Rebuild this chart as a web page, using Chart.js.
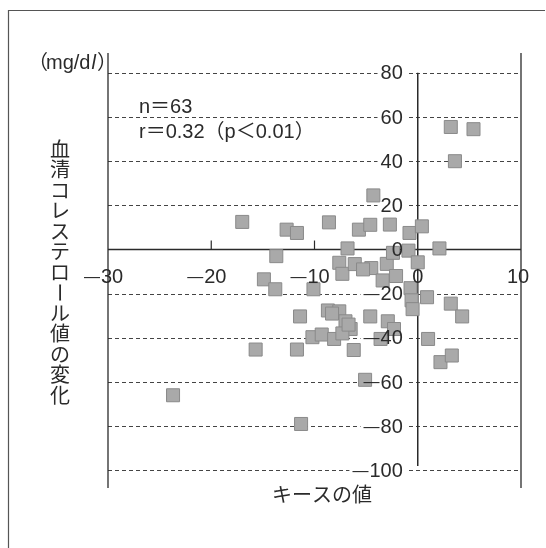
<!DOCTYPE html>
<html>
<head>
<meta charset="utf-8">
<script src="https://cdn.jsdelivr.net/npm/chart.js@4.4.1/dist/chart.umd.min.js"></script>
<style>
html, body { margin: 0; padding: 0; background: #fff; }
canvas { display: block; }
</style>
</head>
<body>
<canvas id="chart" width="546" height="548"></canvas>
<script>
'use strict'

// data (x = キースの値, y = 血清コレステロール値の変化, mg/dl)
const xValues = [3.2, 5.4, 3.6, -4.3, -17.0, -12.7, -11.7, -8.6, -5.7, -4.6, -2.7, -0.8, 0.4, 2.1, -6.8,
	-13.7, -0.9, 0.0, -7.6, -7.3, -6.1, -4.5, -3.0, -2.4, -14.9, -13.8, -10.1, -3.4, -2.1, -0.7,
	-0.6, -0.5, 0.9, 3.2, 4.3, -11.4, -8.7, -7.6, -7.0, -6.5, -10.2, -9.3, -8.1, -7.3, -4.6,
	-2.9, -2.3, -3.6, -15.7, -11.7, -6.2, 1.0, 2.2, 3.3, -5.1, -11.3, -23.7, -5.3, -8.3, -6.7];
const yValues = [55.5, 54.5, 40, 24.5, 12.5, 9, 7.5, 12.3, 9, 11.2, 11.3, 7.5, 10.5, 0.5, 0.5,
	-3, -0.5, -5.8, -6, -11, -6.6, -8.4, -6.5, -1.5, -13.5, -18, -18, -14, -12, -17.5,
	-23, -27, -21.6, -24.5, -30.3, -30.3, -27.6, -28, -32.5, -36, -39.7, -38.5, -40.5, -38, -30.3,
	-32.5, -36, -40.5, -45.3, -45.3, -45.5, -40.5, -51, -48, -59, -79, -66, -9, -29, -34];

const yTicks = [80, 60, 40, 20, 0, -20, -40, -60, -80, -100];
const xTicks = [-30, -20, -10, 0, 10];
const xMinorTicks = [-20, -10];

const yTitle = '血清コレステロール値の変化';
const xTitle = 'キースの値';
const notes = ['n＝63', 'r＝0.32（p＜0.01）'];

const latin = "'Liberation Sans', 'Noto Sans CJK JP', sans-serif";
const jp = "'Noto Sans CJK JP', sans-serif";
const ink = '#2a2a2a';
const tickFont = '20px ' + latin;
const dashFont = '16px ' + latin;

const points = xValues.map((x, i) => ({ x: x, y: yValues[i] }));

function numText(v) {
	return { dash: v < 0 ? '—' : '', digits: String(Math.abs(v)) };
}

// draws "—20" with the digits ending at rx (right) or starting at lx
function drawNum(ctx, v, px, py, align) {
	const t = numText(v);
	ctx.font = tickFont;
	const w = ctx.measureText(t.digits).width;
	const lx = align === 'right' ? px - w : px - w / 2;
	ctx.textAlign = 'left';
	ctx.fillText(t.digits, lx, py);
	if (t.dash) {
		ctx.font = dashFont;
		ctx.textAlign = 'right';
		ctx.fillText(t.dash, lx - 1, py);
	}
}

const frame = {
	id: 'frame',
	beforeDatasetsDraw(chart) {
		const { ctx, chartArea: { top, bottom, left, right }, scales: { x, y } } = chart;
		ctx.save();

		// outer box
		ctx.strokeStyle = '#555';
		ctx.lineWidth = 1.2;
		ctx.beginPath();
		ctx.moveTo(8.5, 560);
		ctx.lineTo(8.5, 10.5);
		ctx.lineTo(545, 10.5);
		ctx.stroke();

		// dashed grid
		ctx.strokeStyle = '#444';
		ctx.lineWidth = 1;
		ctx.setLineDash([4, 3]);
		yTicks.forEach(v => {
			if (v === 0) return;
			const py = Math.round(y.getPixelForValue(v)) + 0.5;
			ctx.beginPath();
			ctx.moveTo(left, py);
			ctx.lineTo(right, py);
			ctx.stroke();
		});
		ctx.setLineDash([]);

		// frame sides
		ctx.strokeStyle = ink;
		ctx.lineWidth = 1.3;
		[left, right].forEach(px => {
			ctx.beginPath();
			ctx.moveTo(px, top);
			ctx.lineTo(px, bottom);
			ctx.stroke();
		});

		// axes through zero
		const y0 = y.getPixelForValue(0);
		const x0 = x.getPixelForValue(0);
		ctx.lineWidth = 1.5;
		ctx.beginPath();
		ctx.moveTo(left, y0);
		ctx.lineTo(right, y0);
		ctx.stroke();
		ctx.beginPath();
		ctx.moveTo(x0, y.getPixelForValue(80));
		ctx.lineTo(x0, y.getPixelForValue(-98));
		ctx.stroke();

		ctx.lineWidth = 1.2;
		xMinorTicks.forEach(v => {
			const px = x.getPixelForValue(v);
			ctx.beginPath();
			ctx.moveTo(px, y0);
			ctx.lineTo(px, y0 - 9);
			ctx.stroke();
		});

		// white gaps behind y labels
		ctx.fillStyle = '#fff';
		yTicks.forEach(v => {
			if (v === 0) return;
			const t = numText(v);
			ctx.font = tickFont;
			let w = ctx.measureText(t.digits).width;
			if (t.dash) {
				ctx.font = dashFont;
				w += ctx.measureText(t.dash).width + 1;
			}
			const py = y.getPixelForValue(v);
			const rx = x0 - 15;
			ctx.fillRect(rx - w - 3, py - 3, w + 7, 6);
		});
		ctx.restore();
	},
	afterDatasetsDraw(chart) {
		const { ctx, scales: { x, y } } = chart;
		const x0 = x.getPixelForValue(0);
		const y0 = y.getPixelForValue(0);
		ctx.save();
		ctx.fillStyle = ink;
		ctx.textBaseline = 'middle';

		// y tick labels, right aligned left of the zero axis
		yTicks.forEach(v => {
			drawNum(ctx, v, x0 - 15, y.getPixelForValue(v) + 1, 'right');
		});

		// x tick labels below the zero line
		xTicks.forEach(v => {
			const cx = x.getPixelForValue(v) + (v < 0 ? 4 : v > 0 ? -3 : 0);
			drawNum(ctx, v, cx, y0 + 28, 'center');
		});

		// unit
		ctx.textAlign = 'left';
		ctx.font = '20px ' + latin;
		let ux = 36;
		const uy = 63;
		ctx.fillText('（', ux - 8, uy);
		ux += 10;
		ctx.fillText('mg/d', ux, uy);
		ux += ctx.measureText('mg/d').width;
		ctx.font = 'italic 20px ' + latin;
		ctx.fillText('l', ux + 1, uy);
		ux += ctx.measureText('l').width + 2;
		ctx.font = '20px ' + latin;
		ctx.fillText('）', ux, uy);

		// notes
		ctx.font = '20px ' + latin;
		notes.forEach((s, i) => ctx.fillText(s, 139, 107 + i * 25));

		// vertical y title
		ctx.font = '20px ' + jp;
		ctx.textAlign = 'center';
		[...yTitle].forEach((ch, i) => {
			const cy = 149 + i * 20.5;
			if (ch === 'ー') {
				ctx.save();
				ctx.translate(60, cy);
				ctx.rotate(Math.PI / 2);
				ctx.fillText(ch, 0, 0);
				ctx.restore();
			} else {
				ctx.fillText(ch, 60, cy);
			}
		});

		// x title
		ctx.fillText(xTitle, 322, 494);
		ctx.restore();
	},
};

new Chart(document.getElementById('chart'), {
	type: 'scatter',
	data: {
		datasets: [{
			data: points,
			pointStyle: 'rect',
			pointRadius: 9.2,
			pointHoverRadius: 9.2,
			backgroundColor: '#a9a9a9',
			borderColor: '#8a8a8a',
			borderWidth: 1,
		}],
	},
	options: {
		responsive: false,
		animation: false,
		events: [],
		layout: {
			padding: { left: 108, right: 25, top: 53, bottom: 60 },
		},
		plugins: {
			legend: { display: false },
			tooltip: { enabled: false },
		},
		scales: {
			x: { type: 'linear', min: -30, max: 10, display: false },
			y: { type: 'linear', min: -108, max: 89, display: false },
		},
	},
	plugins: [frame],
});
</script>
</body>
</html>
